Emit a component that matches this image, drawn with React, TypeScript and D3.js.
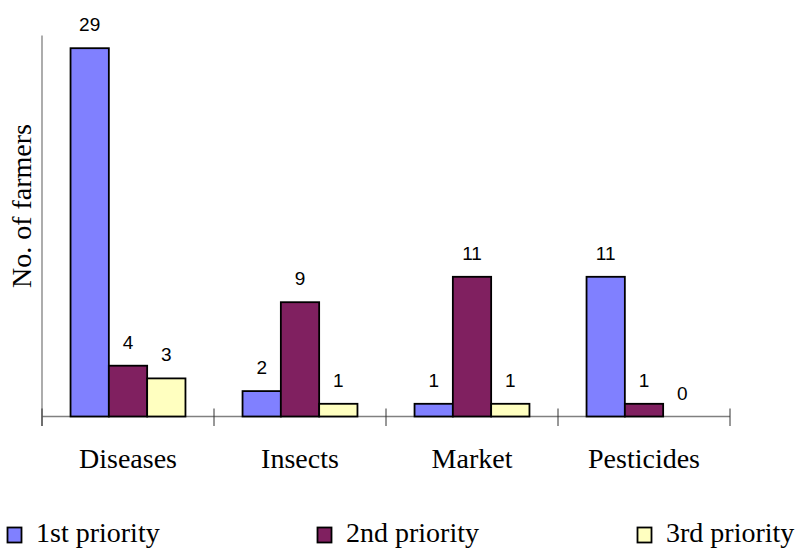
import React from "react";
import * as d3 from "d3";

const categories = ["Diseases", "Insects", "Market", "Pesticides"];
const seriesNames = ["1st priority", "2nd priority", "3rd priority"];
const firstPriority = [29, 2, 1, 11];
const secondPriority = [4, 9, 11, 1];
const thirdPriority = [3, 1, 1, 0];
const seriesColors = ["#8080FF", "#802060", "#FFFFC0"];

const W = 798;
const H = 549;

export default function App() {
  const seriesValues = [firstPriority, secondPriority, thirdPriority];

  const x0 = d3.scaleBand<string>().domain(categories).range([42, 730]).padding(0);
  const x1 = d3
    .scaleBand<string>()
    .domain(seriesNames)
    .range([0, x0.bandwidth()])
    .paddingInner(0)
    .paddingOuter(0.745);
  const y = d3.scaleLinear().domain([0, 30]).range([416.5, 35.5]);

  const serif = "'Liberation Serif', 'Times New Roman', serif";
  const sans = "'Liberation Sans', Arial, sans-serif";
  const tickPositions = categories.map((c) => x0(c)!).concat([x0.range()[1]]);
  const legendX = [7, 317, 637];

  return (
    <svg
      width={W}
      height={H}
      style={{ position: "absolute", left: 0, top: 0, background: "#fff" }}
    >
      {/* axes */}
      <line x1={42} x2={42} y1={y(30)} y2={426} stroke="#808080" strokeWidth={1.3} />
      <line x1={42} x2={730} y1={y(0)} y2={y(0)} stroke="#808080" strokeWidth={1.3} />
      {tickPositions.map((tx, i) => (
        <line key={i} x1={tx} x2={tx} y1={y(0) - 8} y2={426} stroke="#333" strokeWidth={1} />
      ))}

      {/* bars */}
      {categories.map((cat, ci) =>
        seriesNames.map((s, si) => {
          const v = seriesValues[si][ci];
          const bx = x0(cat)! + x1(s)!;
          return (
            <g key={cat + s}>
              {v > 0 && (
                <rect
                  x={bx}
                  y={y(v)}
                  width={x1.bandwidth()}
                  height={y(0) - y(v)}
                  fill={seriesColors[si]}
                  stroke="#000"
                  strokeWidth={1.8}
                />
              )}
              <text
                x={bx + x1.bandwidth() / 2}
                y={y(v) - 17}
                textAnchor="middle"
                fontFamily={sans}
                fontSize={19}
                fill="#000"
              >
                {v}
              </text>
            </g>
          );
        })
      )}

      {/* category labels */}
      {categories.map((cat) => (
        <text
          key={cat}
          x={x0(cat)! + x0.bandwidth() / 2}
          y={468}
          textAnchor="middle"
          fontFamily={serif}
          fontSize={28}
          fill="#000"
        >
          {cat}
        </text>
      ))}

      {/* y axis title */}
      <text
        transform={`translate(31,206) rotate(-90)`}
        textAnchor="middle"
        fontFamily={serif}
        fontSize={28}
        fill="#000"
      >
        No. of farmers
      </text>

      {/* legend */}
      {seriesNames.map((s, i) => (
        <g key={s} transform={`translate(${legendX[i]},0)`}>
          <rect x={0.5} y={527.5} width={14} height={15} fill={seriesColors[i]} stroke="#000" strokeWidth={1.8} />
          <text x={29} y={542} fontFamily={serif} fontSize={28} fill="#000">
            {s}
          </text>
        </g>
      ))}
    </svg>
  );
}
